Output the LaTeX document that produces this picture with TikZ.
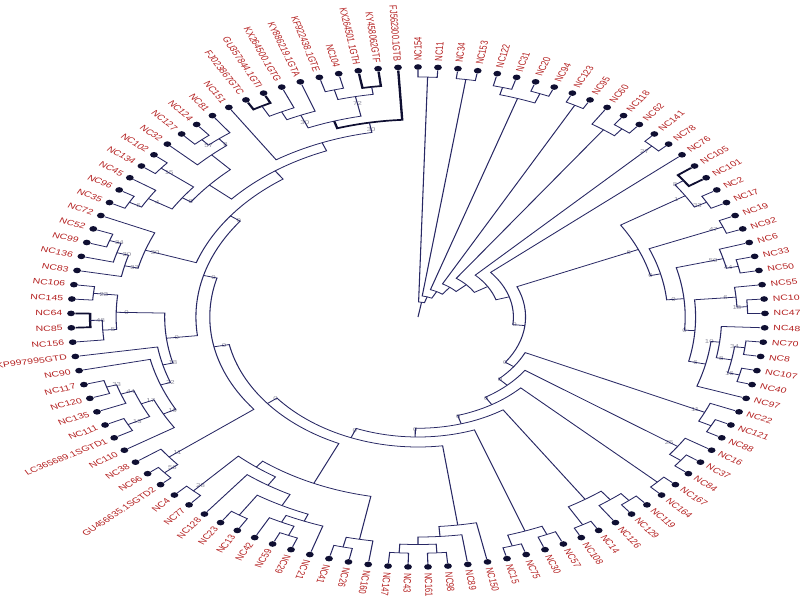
\documentclass[tikz,border=0pt]{standalone}
\usepackage{fontspec}
\setmainfont{Liberation Sans}
\usetikzlibrary{calc}
\definecolor{labred}{RGB}{180,32,32}
\definecolor{branchblue}{RGB}{40,40,100}
\definecolor{dotnavy}{RGB}{15,15,50}
\definecolor{bsgray}{RGB}{140,140,155}
\newcommand{\radx}{6.25}
\newcommand{\rady}{6.25}
% leaf: name, position, text
\newcommand{\leafat}[3]{%
  \pgfmathsetmacro{\lfang}{90-#2*(360/109)}%
  \expandafter\xdef\csname ang#1\endcsname{\lfang}%
  \node[leafdot] (#1) at ({\radx*cos(\lfang)},{\rady*sin(\lfang)}) {};%
  \pgfmathsetmacro{\lftilt}{atan2(\rady*sin(\lfang),\radx*cos(\lfang))}%
  \pgfmathtruncatemacro{\lfside}{\lfang>-113}%
  \ifnum\lfside=1
    \node[lab, anchor=west, rotate=\lftilt] at ([shift={(\lftilt:0.15)}]#1) {#3};%
  \else
    \node[lab, anchor=east, rotate=\lftilt+180] at ([shift={(\lftilt:0.15)}]#1) {#3};%
  \fi}
% clade: [style] name, child a, child b, radius, support
\newcommand{\cladeat}[6][]{%
  \pgfmathsetmacro{\angA}{\csname ang#3\endcsname}%
  \pgfmathsetmacro{\angB}{\csname ang#4\endcsname}%
  \pgfmathsetmacro{\angM}{(\angA+\angB)/2}%
  \expandafter\xdef\csname ang#2\endcsname{\angM}%
  \pgfmathsetmacro{\xr}{#5*\radx}%
  \pgfmathsetmacro{\yr}{#5*\rady}%
  \coordinate (#2) at ({\xr*cos(\angM)},{\yr*sin(\angM)});%
  \coordinate (#2-a) at ({\xr*cos(\angA)},{\yr*sin(\angA)});%
  \draw[branch,#1] (#3) -- (#2-a) arc[start angle=\angA, end angle=\angB, x radius=\xr cm, y radius=\yr cm] -- (#4);%
  \if\relax\detokenize{#6}\relax\else
    \node[bs] at ({(#5-0.03)*\radx*cos(\angM)},{(#5-0.03)*\rady*sin(\angM)}) {#6};%
  \fi}

\begin{document}
\begin{tikzpicture}[
  branch/.style={draw=branchblue, line width=0.55pt},
  strong/.style={line width=1.2pt, draw=dotnavy},
  leafdot/.style={circle, fill=dotnavy, inner sep=0pt, minimum size=4pt},
  lab/.style={text=labred, font=\fontsize{5.4}{6.5}\selectfont, inner sep=0pt},
  bs/.style={text=bsgray, font=\fontsize{4}{4.5}\selectfont, inner sep=0pt}
]
  \useasboundingbox (-10.45,-7.075) rectangle (9.55,7.925);

  % the whole tree is drawn round and stretched sideways
  \begin{scope}[transform canvas={xscale=1.388}]

  % Leaves, clockwise from the top
  \foreach \n/\t [count=\p from 0] in {
    nc154/NC154, nc11/NC11, nc34/NC34, nc153/NC153, nc122/NC122, nc31/NC31,
    nc20/NC20, nc94/NC94, nc123/NC123, nc95/NC95, nc60/NC60, nc118/NC118,
    nc62/NC62, nc141/NC141, nc78/NC78, nc76/NC76, nc105/NC105, nc101/NC101,
    nc2/NC2, nc17/NC17, nc19/NC19, nc92/NC92, nc6/NC6, nc33/NC33, nc50/NC50,
    nc55/NC55, nc103/NC103, nc47/NC47, nc48/NC48, nc70/NC70, nc8/NC8,
    nc107/NC107, nc40/NC40, nc97/NC97, nc22/NC22, nc121/NC121, nc88/NC88,
    nc16/NC16, nc37/NC37, nc84/NC84, nc167/NC167, nc164/NC164, nc119/NC119,
    nc129/NC129, nc126/NC126, nc14/NC14, nc108/NC108, nc57/NC57, nc30/NC30,
    nc75/NC75, nc15/NC15, nc150/NC150, nc89/NC89, nc98/NC98, nc161/NC161,
    nc43/NC43, nc147/NC147, nc160/NC160, nc26/NC26, nc41/NC41, nc21/NC21,
    nc29/NC29, nc59/NC59, nc42/NC42, nc13/NC13, nc23/NC23, nc128/NC128,
    nc77/NC77, nc4/NC4, gu456635/GU456635.1SGTD2, nc66/NC66, nc38/NC38,
    nc110/NC110, lc365689/LC365689.1SGTD1, nc111/NC111, nc135/NC135,
    nc120/NC120, nc117/NC117, nc90/NC90, kp997995/KP997995GTD, nc156/NC156,
    nc85/NC85, nc64/NC64, nc145/NC145, nc106/NC106, nc83/NC83, nc136/NC136,
    nc99/NC99, nc52/NC52, nc72/NC72, nc35/NC35, nc96/NC96, nc45/NC45,
    nc134/NC134, nc102/NC102, nc32/NC32, nc127/NC127, nc124/NC124, nc81/NC81,
    nc151/NC151, fj023867/FJ023867GTC, gu357844/GU357844.1GTI,
    kx264500/KX264500.1GTG, ky886219/KY886219.1GTA, kf922438/KF922438.1GTE,
    nc104/NC104, kx264501/KX264501.1GTH, ky458062/KY458062GTF,
    fj562300/FJ562300.1GTB}
    {\leafat{\n}{\p}{\t}}

  % Small clades at the top right
  \cladeat{t1}{nc154}{nc11}{.96}{}
  \cladeat{t2}{nc34}{nc153}{.96}{}
  \cladeat{t3a}{nc122}{nc31}{.95}{}
  \cladeat{t3b}{nc20}{nc94}{.96}{}
  \cladeat{t3}{t3a}{t3b}{.92}{}
  \cladeat{t4}{nc123}{nc95}{.96}{}
  \cladeat{t5a}{nc118}{nc62}{.955}{}
  \cladeat{t5}{nc60}{t5a}{.92}{}
  \cladeat{t6}{nc141}{nc78}{.96}{27}

  % Right clade
  \cladeat[strong]{ra1}{nc105}{nc101}{.94}{8}
  \cladeat{ra2}{nc2}{nc17}{.95}{33}
  \cladeat{ra}{ra1}{ra2}{.91}{1}
  \cladeat{rb1}{nc19}{nc92}{.95}{47}
  \cladeat{rc2}{nc33}{nc50}{.945}{44}
  \cladeat{rc1}{nc6}{rc2}{.91}{50}
  \cladeat{rd2}{nc103}{nc47}{.95}{18}
  \cladeat{rd1}{nc55}{rd2}{.92}{6}
  \cladeat{rh1}{nc70}{nc8}{.95}{34}
  \cladeat{rh2}{nc107}{nc40}{.955}{16}
  \cladeat{rh}{rh1}{rh2}{.92}{8}
  \cladeat{rf}{nc48}{rh}{.875}{10}
  \cladeat{re}{rf}{nc97}{.85}{6}
  \cladeat{rd}{rd1}{re}{.80}{0}
  \cladeat{rc}{rc1}{rd}{.77}{0}
  \cladeat{rb}{rb1}{rc}{.72}{0}
  \cladeat{r}{ra}{rb}{.69}{6}

  % Lower right and bottom
  \cladeat{c9a}{nc121}{nc88}{.95}{}
  \cladeat{c9}{nc22}{c9a}{.91}{11}
  \cladeat{c10a}{nc37}{nc84}{.95}{}
  \cladeat{c10}{nc16}{c10a}{.91}{25}
  \cladeat{c11}{nc167}{nc164}{.955}{}
  \cladeat{c12a}{nc119}{nc129}{.953}{}
  \cladeat{c12b}{c12a}{nc126}{.917}{}
  \cladeat{c12c}{nc14}{nc108}{.957}{}
  \cladeat{c12}{c12b}{c12c}{.874}{}
  \cladeat{c13a}{nc57}{nc30}{.946}{}
  \cladeat{c13b}{nc75}{nc15}{.955}{}
  \cladeat{c13}{c13a}{c13b}{.91}{}
  \cladeat{c14a}{nc98}{nc161}{.945}{}
  \cladeat{c14b}{nc43}{nc147}{.945}{}
  \cladeat{c14c}{c14a}{c14b}{.91}{}
  \cladeat{c14d}{nc89}{c14c}{.88}{}
  \cladeat{c14}{nc150}{c14d}{.84}{}
  \cladeat{c15a}{nc26}{nc41}{.945}{}
  \cladeat{c15}{nc160}{c15a}{.905}{}
  \cladeat{c16a}{nc29}{nc59}{.95}{}
  \cladeat{c16b}{c16a}{nc42}{.91}{}
  \cladeat{c16c}{nc21}{c16b}{.88}{}
  \cladeat{c16d}{nc13}{nc23}{.945}{}
  \cladeat{c16e}{c16c}{c16d}{.85}{}
  \cladeat{c16f}{c16e}{nc128}{.80}{}
  \cladeat{c16g}{nc77}{nc4}{.95}{28}
  \cladeat{c16}{c16f}{c16g}{.76}{}
  \cladeat{c1516}{c15}{c16}{.73}{}

  % Left side
  \cladeat{c17a}{gu456635}{nc66}{.96}{56}
  \cladeat{c17}{c17a}{nc38}{.91}{11}
  \cladeat{c18a}{lc365689}{nc111}{.94}{13}
  \cladeat{c18b}{nc120}{nc117}{.94}{33}
  \cladeat{c18c}{nc135}{c18b}{.91}{44}
  \cladeat{c18d}{c18a}{c18c}{.87}{17}
  \cladeat{c18e}{nc110}{c18d}{.83}{19}
  \cladeat{c18f}{c18e}{nc90}{.79}{22}
  \cladeat{c18}{c18f}{kp997995}{.76}{18}
  \cladeat[strong]{c19a}{nc85}{nc64}{.945}{48}
  \cladeat{c19b}{nc156}{c19a}{.91}{5}
  \cladeat{c19c}{nc145}{nc106}{.94}{23}
  \cladeat{c19}{c19b}{c19c}{.87}{0}
  \cladeat{c1819}{c18}{c19}{.73}{0}
  \cladeat{c20a}{nc99}{nc52}{.94}{34}
  \cladeat{c20b}{nc136}{c20a}{.905}{30}
  \cladeat{c20c}{nc83}{c20b}{.87}{33}
  \cladeat{c20}{c20c}{nc72}{.83}{30}
  \cladeat{c21a}{nc35}{nc96}{.95}{6}
  \cladeat{c21b}{c21a}{nc45}{.91}{4}
  \cladeat{c21c}{nc134}{nc102}{.95}{15}
  \cladeat{c21d}{c21b}{c21c}{.83}{8}
  \cladeat{c21e}{nc127}{nc124}{.944}{57}
  \cladeat{c21f}{c21e}{nc81}{.915}{8}
  \cladeat{c21g}{nc32}{c21f}{.88}{}
  \cladeat{c21}{c21d}{c21g}{.80}{}

  % GT references
  \cladeat[strong]{c23a}{fj023867}{gu357844}{.956}{}
  \cladeat{c23b}{c23a}{kx264500}{.91}{}
  \cladeat{c23c}{c23b}{ky886219}{.875}{30}
  \cladeat{c23d}{kf922438}{nc104}{.94}{}
  \cladeat[strong]{c23e}{kx264501}{ky458062}{.93}{}
  \cladeat{c23f}{c23d}{c23e}{.90}{72}
  \cladeat{c23g}{c23c}{c23f}{.82}{}
  \cladeat[strong]{c23}{c23g}{fj562300}{.79}{30}

  % Backbone
  \cladeat{n19}{nc151}{c23}{.75}{}
  \cladeat{n18}{c21}{n19}{.715}{}
  \cladeat{n17}{c20}{n18}{.675}{0}
  \cladeat{n16}{c1819}{n17}{.64}{0}
  \cladeat{n15}{c17}{n16}{.60}{0}
  \cladeat{n14}{c1516}{n15}{.555}{0}
  \cladeat{n13}{c14}{n14}{.52}{0}
  \cladeat{n12}{c13}{n13}{.48}{0}
  \cladeat{n11}{c12}{n12}{.445}{0}
  \cladeat{n10}{c11}{n11}{.41}{0}
  \cladeat{n9}{c10}{n10}{.375}{0}
  \cladeat{n8}{c9}{n9}{.34}{0}
  \cladeat{n7}{r}{n8}{.31}{0}
  \cladeat{n6}{nc76}{n7}{.275}{}
  \cladeat{n5}{t6}{n6}{.235}{}
  \cladeat{n4}{t5}{n5}{.19}{}
  \cladeat{n3}{t4}{n4}{.15}{}
  \cladeat{n2}{t3}{n3}{.115}{}
  \cladeat{n1}{t2}{n2}{.085}{}
  \cladeat{root}{t1}{n1}{.06}{}

  % Root stub
  \coordinate (ctr) at (0,0);
  \draw[branch] (ctr) -- (root);
  \end{scope}
\end{tikzpicture}
\end{document}
